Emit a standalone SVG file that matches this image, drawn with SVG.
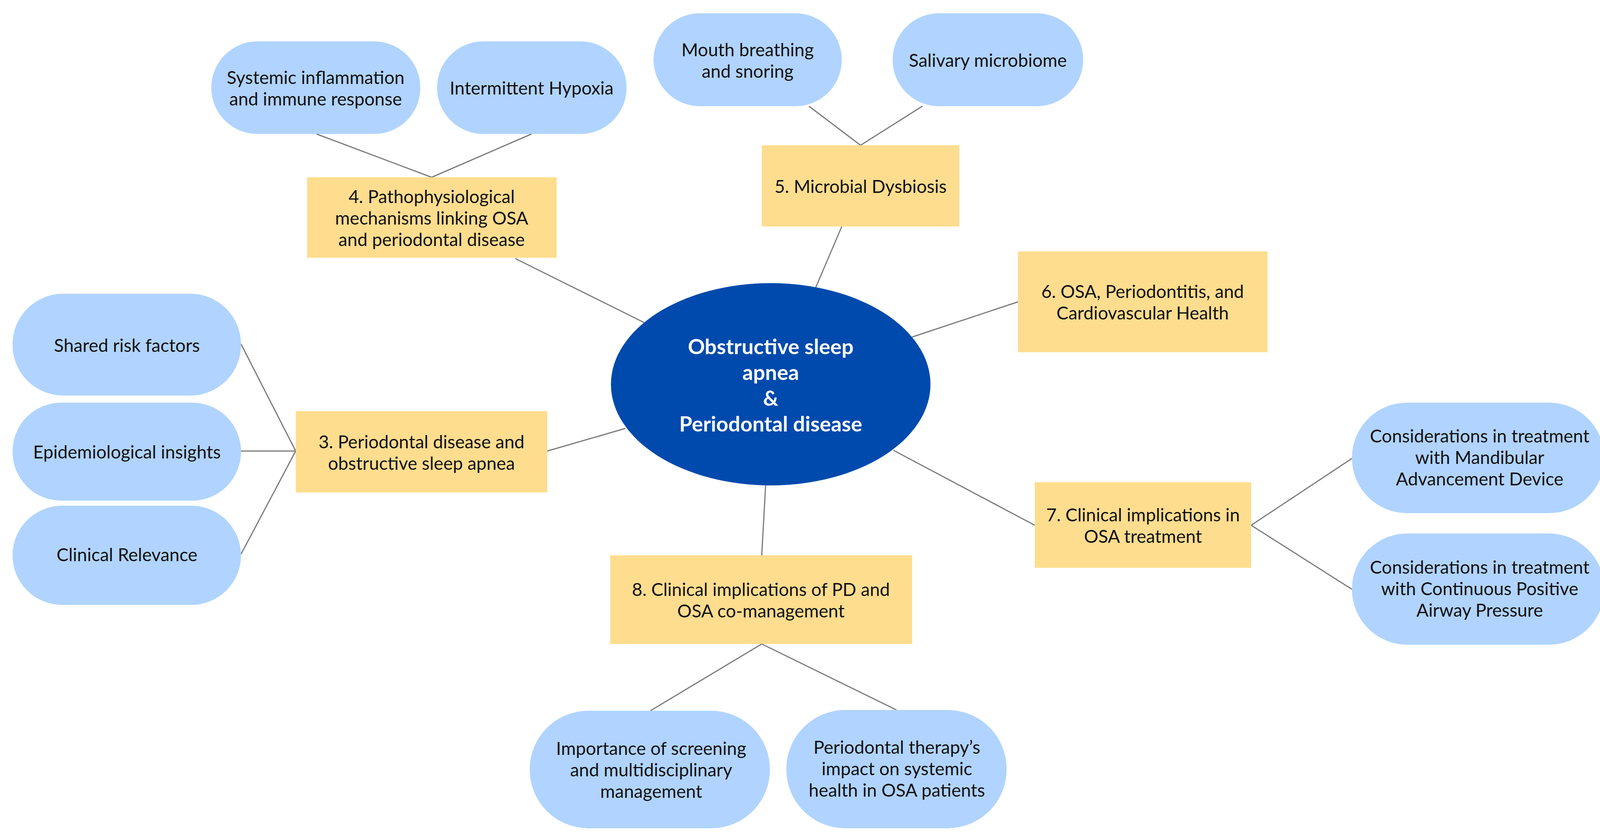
<svg xmlns="http://www.w3.org/2000/svg" width="4137" height="2151" viewBox="0 0 4137 2151">
<style>
.y{fill:#ffdd8f}
.b{fill:#b0d4ff}
text{font-family:Lato,"Open Sans",sans-serif;font-size:46px;fill:#111;text-anchor:middle;dominant-baseline:central}
.c{font-size:54px;font-weight:bold;fill:#fff}
#conn line{stroke:#7a7a7a;stroke-width:3}
</style>
<rect width="4137" height="2151" fill="#fff"/>
<g id="conn">
<line x1="810" y1="343" x2="1105" y2="454"/>
<line x1="1361" y1="343" x2="1105" y2="454"/>
<line x1="1319" y1="662" x2="1649" y2="826"/>
<line x1="2071" y1="272" x2="2203" y2="372"/>
<line x1="2361" y1="272" x2="2203" y2="372"/>
<line x1="2155" y1="580" x2="2087" y2="739"/>
<line x1="2606" y1="773" x2="2335" y2="863"/>
<line x1="1401" y1="1155" x2="1601" y2="1097"/>
<line x1="617" y1="881" x2="757" y2="1155"/>
<line x1="617" y1="1155" x2="757" y2="1155"/>
<line x1="617" y1="1419" x2="757" y2="1155"/>
<line x1="2287" y1="1153" x2="2649" y2="1345"/>
<line x1="3203" y1="1345" x2="3461" y2="1174"/>
<line x1="3203" y1="1345" x2="3461" y2="1509"/>
<line x1="1960" y1="1243" x2="1950" y2="1422"/>
<line x1="1950" y1="1649" x2="1665" y2="1820"/>
<line x1="1950" y1="1649" x2="2295" y2="1818"/>
</g>
<g id="center"><ellipse cx="1973" cy="984" rx="409" ry="259" fill="#004aad"/>
<text class="c" x="1973" y="886">Obstructive sleep</text><text class="c" x="1973" y="952">apnea</text><text class="c" x="1973" y="1018">&amp;</text><text class="c" x="1973" y="1084">Periodontal disease</text></g>
<g id="n4"><rect class="y" x="786" y="454" width="639" height="206"/><text x="1105" y="502">4. Pathophysiological</text><text x="1105" y="557">mechanisms linking OSA</text><text x="1105" y="612">and periodontal disease</text></g>
<g id="n5"><rect class="y" x="1950" y="372" width="506" height="208"/><text x="2203" y="476">5. Microbial Dysbiosis</text></g>
<g id="n6"><rect class="y" x="2606" y="644" width="639" height="258"/><text x="2925" y="745">6. OSA, Periodontitis, and</text><text x="2925" y="800">Cardiovascular Health</text></g>
<g id="n3"><rect class="y" x="757" y="1053" width="644" height="208"/><text x="1079" y="1130">3. Periodontal disease and</text><text x="1079" y="1185">obstructive sleep apnea</text></g>
<g id="n7"><rect class="y" x="2649" y="1235" width="554" height="219"/><text x="2926" y="1317">7. Clinical implications in</text><text x="2926" y="1372">OSA treatment</text></g>
<g id="n8"><rect class="y" x="1562" y="1422" width="773" height="227"/><text x="1948" y="1508">8. Clinical implications of PD and</text><text x="1948" y="1563">OSA co-management</text></g>
<g id="p1"><rect class="b" x="541" y="106" width="535" height="237" rx="118"/><text x="808" y="197">Systemic inflammation</text><text x="808" y="252">and immune response</text></g>
<g id="p2"><rect class="b" x="1119" y="106" width="485" height="237" rx="118"/><text x="1361" y="224">Intermittent Hypoxia</text></g>
<g id="p3"><rect class="b" x="1673" y="34" width="482" height="238" rx="119"/><text x="1914" y="126">Mouth breathing</text><text x="1914" y="181">and snoring</text></g>
<g id="p4"><rect class="b" x="2285" y="34" width="488" height="238" rx="119"/><text x="2529" y="153">Salivary microbiome</text></g>
<g id="p5"><rect class="b" x="32" y="752" width="585" height="261" rx="130"/><text x="325" y="883">Shared risk factors</text></g>
<g id="p6"><rect class="b" x="32" y="1031" width="585" height="251" rx="125"/><text x="325" y="1156">Epidemiological insights</text></g>
<g id="p7"><rect class="b" x="32" y="1295" width="585" height="254" rx="127"/><text x="325" y="1419">Clinical Relevance</text></g>
<g id="p8"><rect class="b" x="3461" y="1031" width="646" height="283" rx="141"/><text x="3788" y="1115">Considerations in treatment</text><text x="3788" y="1170">with Mandibular</text><text x="3788" y="1225">Advancement Device</text></g>
<g id="p9"><rect class="b" x="3461" y="1366" width="646" height="285" rx="142"/><text x="3788" y="1451">Considerations in treatment</text><text x="3788" y="1506">with Continuous Positive</text><text x="3788" y="1561">Airway Pressure</text></g>
<g id="p10"><rect class="b" x="1356" y="1820" width="615" height="301" rx="150"/><text x="1667" y="1915">Importance of screening</text><text x="1667" y="1970">and multidisciplinary</text><text x="1667" y="2025">management</text></g>
<g id="p11"><rect class="b" x="2013" y="1818" width="564" height="303" rx="151"/><text x="2296" y="1912">Periodontal therapy’s</text><text x="2296" y="1967">impact on systemic</text><text x="2296" y="2022">health in OSA patients</text></g>
</svg>
